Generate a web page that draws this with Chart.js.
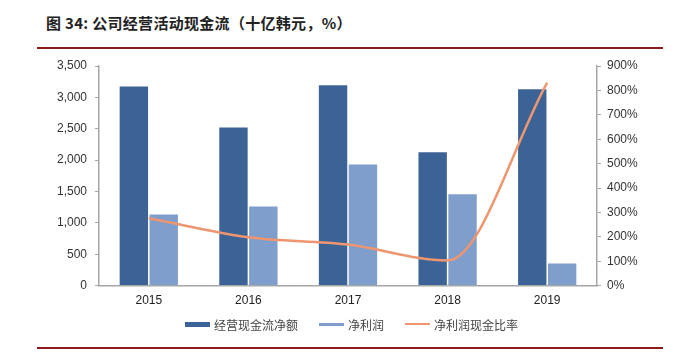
<!DOCTYPE html>
<html><head><meta charset="utf-8">
<script src="https://cdn.jsdelivr.net/npm/chart.js@4/dist/chart.umd.min.js"></script>
<style>
html,body{margin:0;padding:0;background:#fff;width:689px;height:359px;overflow:hidden;}
#title{position:absolute;left:46px;top:12px;font-family:"Noto Sans CJK SC","Liberation Sans",sans-serif;font-size:15px;line-height:22px;font-weight:bold;color:#222;white-space:nowrap;letter-spacing:0.3px;}
.rule{position:absolute;left:37px;width:626px;height:2px;background:#8b1c1c;}
#wrap{position:absolute;left:0;top:0;width:689px;height:359px;}
#legend{position:absolute;left:185px;top:316px;height:16px;display:flex;align-items:center;font-family:"Noto Sans CJK SC",sans-serif;font-size:12px;color:#444;white-space:nowrap;}
#legend .item{display:flex;align-items:center;margin-right:21px;}
#legend .sw{width:25px;margin-right:4px;}
</style></head>
<body>
<div id="title">图 34: 公司经营活动现金流（十亿韩元，%）</div>
<div class="rule" style="top:47px"></div>
<div class="rule" style="top:347px"></div>
<div id="wrap"><canvas id="c" width="689" height="359"></canvas></div>
<div id="legend"></div>
<script>
const categories = ["2015","2016","2017","2018","2019"];
const operatingCF = [3175, 2520, 3195, 2125, 3130];
const netProfit = [1135, 1262, 1930, 1455, 352];
const cashRatio = [276, 198, 168, 103, 832];
const leftTicks = [0,500,1000,1500,2000,2500,3000,3500];
const rightTicks = [0,100,200,300,400,500,600,700,800,900];
const seriesNames = ['经营现金流净额','净利润','净利润现金比率'];
const seriesColors = ['#3c6396','#7f9ecb','#ef9670'];

const numFont = {family:"'Liberation Sans', Arial, sans-serif", size:12};
const chart = new Chart(document.getElementById('c'), {
  data: {
    labels: categories,
    datasets: [
      {type:'bar', label:seriesNames[0], data:operatingCF, backgroundColor:seriesColors[0], yAxisID:'y', order:2, barPercentage:0.95, categoryPercentage:0.6},
      {type:'bar', label:seriesNames[1], data:netProfit, backgroundColor:seriesColors[1], yAxisID:'y', order:2, barPercentage:0.95, categoryPercentage:0.6},
      {type:'line', label:seriesNames[2], data:cashRatio, borderColor:seriesColors[2], backgroundColor:seriesColors[2], borderWidth:2.5, pointRadius:0, cubicInterpolationMode:'monotone', yAxisID:'y1', order:1}
    ]
  },
  options: {
    responsive:false, animation:false, devicePixelRatio:1,
    layout:{padding:{left:40, right:42, top:66, bottom:43}},
    plugins:{ legend:{display:false}, tooltip:{enabled:false} },
    scales:{
      x:{grid:{display:false, drawTicks:false}, border:{color:'#a6a6a6', width:1.5}, ticks:{color:'#222', padding:8, font:numFont}},
      y:{position:'left', min:0, max:3500, afterBuildTicks:a=>{a.ticks=leftTicks.map(v=>({value:v}));},
         afterFit:a=>{a.width=59;},
         grid:{display:true, drawOnChartArea:false, tickLength:4, color:'#a6a6a6'}, border:{color:'#a6a6a6', width:1.5},
         ticks:{color:'#333', padding:8, font:numFont, callback:v=>v.toLocaleString('en-US')}},
      y1:{position:'right', min:0, max:900, afterBuildTicks:a=>{a.ticks=rightTicks.map(v=>({value:v}));},
         afterFit:a=>{a.width=50;},
         grid:{display:true, drawOnChartArea:false, tickLength:4, color:'#a6a6a6'}, border:{color:'#a6a6a6', width:1.5},
         ticks:{color:'#333', padding:6, font:numFont, callback:v=>v+'%'}}
    }
  }
});
// HTML legend built from the chart's datasets
const lg = document.getElementById('legend');
const swH = [5,3,2];
chart.data.datasets.forEach((ds,i)=>{
  const it = document.createElement('div'); it.className='item';
  const sw = document.createElement('div'); sw.className='sw';
  sw.style.height = swH[i]+'px'; sw.style.background = seriesColors[i];
  const tx = document.createElement('span'); tx.textContent = ds.label;
  it.appendChild(sw); it.appendChild(tx); lg.appendChild(it);
});
</script>
</body></html>
